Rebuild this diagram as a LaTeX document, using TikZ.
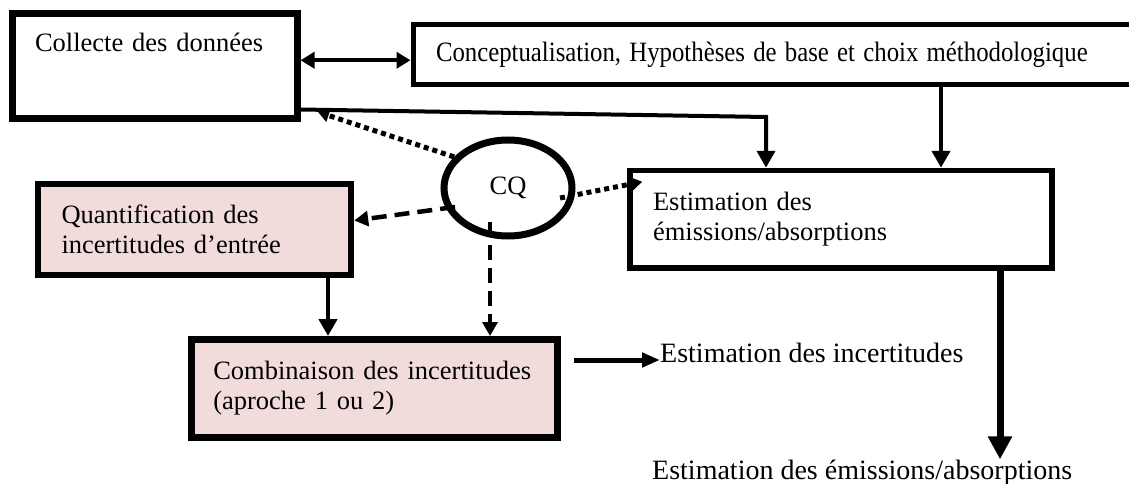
\documentclass[tikz,border=0pt]{standalone}
\usepackage{fontspec}
\setmainfont{Liberation Serif}
\usetikzlibrary{arrows.meta,shapes.geometric,calc}
\definecolor{rosepale}{HTML}{F2DCDB}
\begin{document}
\begin{tikzpicture}[
  x=1pt, y=-1pt,
  blk/.style={rectangle, draw=black, line width=6pt, fill=white, inner sep=0pt,
              align=left, font=\fontsize{26.5}{30}\selectfont},
  pblk/.style={blk, fill=rosepale},
  arr/.style={-{Triangle[length=17pt,width=18pt]}, line width=4.5pt},
  darr/.style={-{Triangle[length=14pt,width=15pt]}, line width=4.5pt,
               dash pattern=on 15pt off 8pt},
  parr/.style={-{Triangle[length=11pt,width=13pt]}, line width=5pt,
               dash pattern=on 5pt off 4pt},
  txt/.style={inner sep=0pt, font=\fontsize{28}{32}\selectfont},
]
\useasboundingbox (0,0) rectangle (1129,484);
\clip (0,0) rectangle (1129,484);

% Blocks
\node[blk, line width=7pt, minimum width=285pt, minimum height=105.5pt,
      text width=239pt, text height=19pt, text depth=47.5pt]
  (CD) at (154.5,66.25) {Collecte des données};
\node[blk, line width=5pt, minimum width=737pt, minimum height=60pt,
      text width=691pt, font=\fontsize{28}{30}\selectfont]
  (CH) at (781.5,55)
  {\scalebox{0.885}[1]{Conceptualisation, Hypothèses de base et choix méthodologique}};
\node[pblk, line width=6.5pt, minimum width=313pt, minimum height=91pt, text width=266pt]
  (QI) at (194.5,229.5) {Quantification des\\incertitudes d’entrée};
\node[pblk, line width=7pt, minimum width=365.5pt, minimum height=97.5pt, text width=322pt]
  (CI) at (374.25,388.25) {Combinaison des incertitudes\\(aproche 1 ou 2)};
\node[blk, line width=5.5pt, minimum width=422pt, minimum height=97.5pt, text width=376pt]
  (EE) at (841,219.25) {Estimation des\\émissions/absorptions};
\node[ellipse, draw, line width=7pt, minimum width=128pt, minimum height=96pt,
      inner sep=0pt, font=\fontsize{26.5}{30}\selectfont]
  (CQ) at (508,188) {CQ};

% Results
\node[txt, anchor=base west] (EI) at (660,362) {Estimation des incertitudes};
\node[txt, anchor=base west] (EO) at (652,479) {Estimation des émissions/absorptions};

% Arrows between blocks
\draw[{Triangle[length=14pt,width=16pt]}-{Triangle[length=14pt,width=16pt]}, line width=4pt]
  ([yshift=6pt]CD.east) -- ([yshift=6pt]CD.east -| CH.west);
\coordinate (bend) at (766,117);
\draw[arr, line width=4pt] ([yshift=13pt]CD.south east) -- (bend) -- (bend |- EE.north);
\draw[arr] ([xshift=100pt]EE.north |- CH.south) -- ([xshift=100pt]EE.north);
\draw[arr] ([xshift=133.5pt]QI.south) -- ([xshift=133.5pt]QI.south |- CI.north);
\draw[-{Triangle[length=18pt,width=14pt]}, line width=5pt]
  ($(CI.east |- EI.base west)+(13,-2)$) -- ($(EI.base west)+(0,-2)$);
\draw[-{Triangle[length=23pt,width=23pt]}, line width=7pt]
  ([xshift=159pt]EE.south) -- ([xshift=159pt]EE.south |- EO.north);

% Controle qualite
\draw[parr] (CQ.150) -- ($(CD.south east)+(17.5,-10.5)$);
\draw[parr] ($(CQ.center)+(52,10)$) -- ($(EE.north west)+(15,14)$);
\draw[darr] ($(CQ.center)+(-53,19)$) -- ([yshift=9pt]QI.east);
\coordinate (q1) at ($(CQ.center)+(-18,34)$);
\draw[darr] (q1) -- (q1 |- CI.north);

\end{tikzpicture}
\end{document}
